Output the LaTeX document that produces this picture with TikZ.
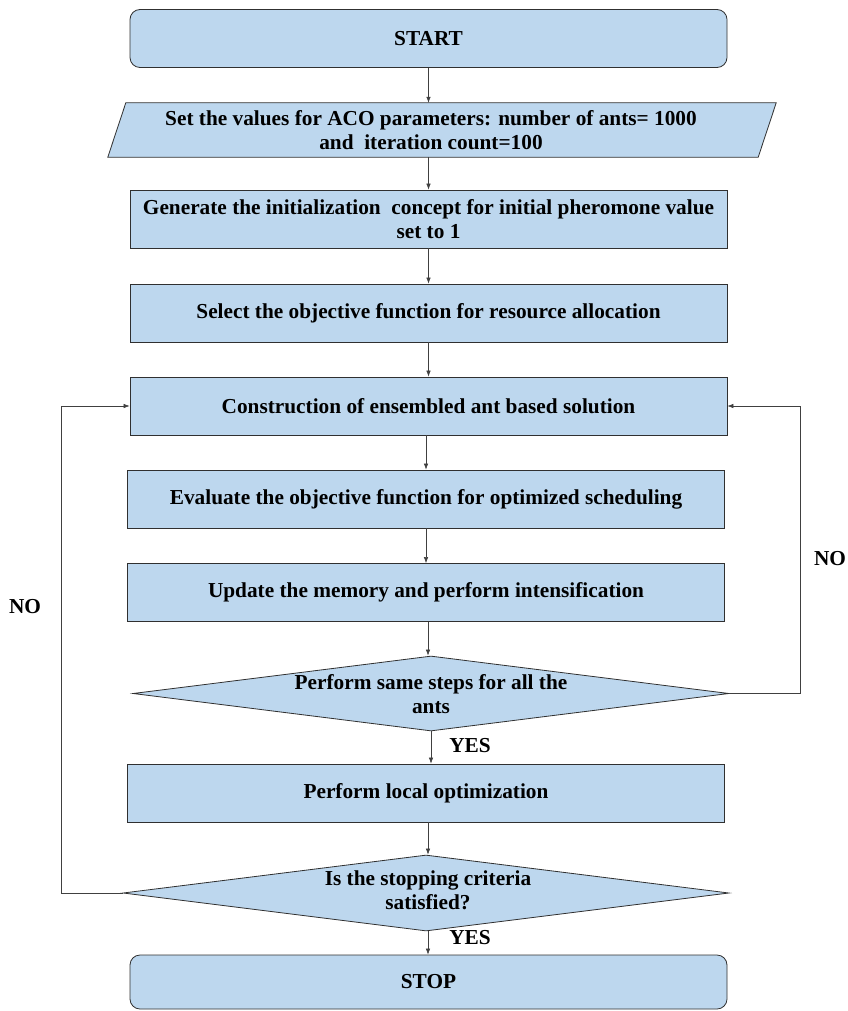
\documentclass[tikz,border=0pt]{standalone}
\usepackage{fontspec}
\setmainfont{Liberation Serif}
\usetikzlibrary{shapes.geometric,arrows.meta}
\definecolor{boxfill}{HTML}{BDD7EE}
\definecolor{boxline}{HTML}{303030}
\definecolor{conline}{HTML}{404040}
\tikzset{
  base/.style={draw=boxline, line width=0.8pt, fill=boxfill},
  procbox/.style={base, rectangle, minimum width=597pt, minimum height=58pt, inner sep=0pt},
  termbox/.style={procbox, rounded corners=10pt},
  txt/.style={font=\fontsize{21.3}{24}\selectfont\bfseries, align=center, inner sep=0pt},
  decbox/.style={base, diamond, inner sep=1pt},
  arr/.style={draw=conline, line width=0.6pt, -{Latex[length=6pt,width=4.5pt]}},
}
\begin{document}
\begin{tikzpicture}[x=1pt,y=-1pt]
\useasboundingbox (0,0) rectangle (847,1011);

\node[termbox, txt] (start) at (428.5,38.5) {START};

\node[rectangle, minimum width=650pt, minimum height=54pt, inner sep=0pt] (param) at (442,130) {};
\draw[base] ([xshift=9pt]param.north west) -- ([xshift=9pt]param.north east)
  -- ([xshift=-9pt]param.south east) -- ([xshift=-9pt]param.south west) -- cycle;
\node[txt] (paramtxt) at (431,130) {Set the values for ACO parameters: number of ants= 1000\\and~ iteration count=100};

\node[procbox, txt] (gen) at (428.5,219) {Generate the initialization~ concept for initial pheromone value\\set to 1};
\node[procbox, txt] (sel) at (428.5,313) {Select the objective function for resource allocation};
\node[procbox, txt] (con) at (428.5,406) {Construction of ensembled ant based solution};
\node[procbox, txt] (eva) at (426,499) {Evaluate the objective function for optimized scheduling};
\node[procbox, txt] (upd) at (426,592.5) {Update the memory and perform intensification};

\node[decbox, minimum width=596pt, minimum height=75pt] (d1) at (431,693.5) {};
\node[txt] (d1txt) at (431,694) {Perform same steps for all the\\ants};

\node[procbox, txt] (loc) at (426,793) {Perform local optimization};

\node[decbox, minimum width=606pt, minimum height=76pt] (d2) at (426,893) {};
\node[txt] (d2txt) at (428,890.5) {Is the stopping criteria\\satisfied?};

\node[termbox, txt, minimum height=54pt] (stop) at (428.5,982) {STOP};

\draw[arr] (start.south) -- (start.south |- param.north);
\draw[arr] (start.south |- param.south) -- (start.south |- gen.north);
\draw[arr] (gen.south) -- (sel.north);
\draw[arr] (sel.south) -- (con.north);
\draw[arr] ([xshift=-2.5pt]con.south) -- (eva.north);
\draw[arr] (eva.south) -- (upd.north);
\draw[arr] ([xshift=2pt]upd.south) -- ([xshift=2pt]upd.south |- d1.north);
\draw[arr] (d1.south) -- (d1.south |- loc.north);
\draw[arr] ([xshift=2pt]loc.south) -- ([xshift=2pt]loc.south |- d2.north);
\draw[arr] ([xshift=2pt]d2.south) -- ([xshift=2pt]d2.south |- stop.north);

\draw[arr] (d1.east) -- ++(71,0) |- (con.east);
\draw[arr] (d2.west) -- ++(-61,0) |- (con.west);

\node[txt] (no1) at (25,607) {NO};
\node[txt] (no2) at (830,559) {NO};
\node[txt] (yes1) at (470,746) {YES};
\node[txt] (yes2) at (470,938) {YES};
\end{tikzpicture}
\end{document}
